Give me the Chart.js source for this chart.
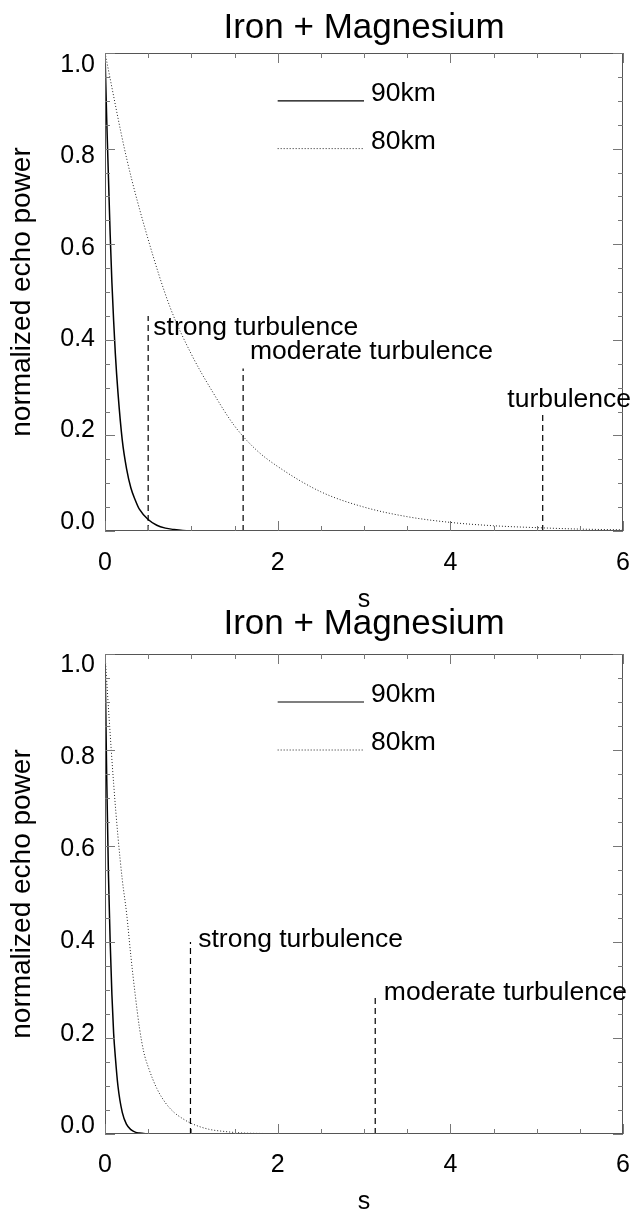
<!DOCTYPE html>
<html>
<head>
<meta charset="UTF-8">
<title>Iron + Magnesium</title>
<script src="https://cdn.jsdelivr.net/npm/chart.js@4.4.0/dist/chart.umd.min.js"></script>
<style>
  body { margin: 0; background: #fff; width: 636px; height: 1212px; overflow: hidden; position: relative; }
  canvas { position: absolute; left: 0; }
  #topChart { top: 0; }
  #bottomChart { top: 600px; }
</style>
</head>
<body>
<canvas id="topChart" width="636" height="630"></canvas>
<canvas id="bottomChart" width="636" height="620"></canvas>
<script>
const FONT = '"Liberation Sans", Arial, Helvetica, sans-serif';

// upper panel
const topS90 = [0, 0.02, 0.04, 0.06, 0.08, 0.10, 0.12, 0.15, 0.20, 0.25, 0.30, 0.35, 0.40, 0.50, 0.60, 0.70, 0.80, 0.90, 1.05];
const topP90 = [1.0, 0.86, 0.74, 0.62, 0.52, 0.44, 0.37, 0.29, 0.19, 0.13, 0.09, 0.065, 0.045, 0.024, 0.012, 0.006, 0.003, 0.001, 0.0];
const topS80 = [0, 0.25, 0.5, 0.75, 1, 1.25, 1.5, 1.75, 2, 2.5, 3, 3.5, 4, 4.5, 5, 5.5, 6];
const topP80 = [1.0, 0.78, 0.61, 0.47, 0.37, 0.29, 0.22, 0.17, 0.135, 0.082, 0.05, 0.03, 0.018, 0.011, 0.007, 0.004, 0.0025];
const topMarkS = [0.5, 1.6, 5.07];
const topMarkH = [0.45, 0.34, 0.245];
const topLabels = ['strong turbulence', 'moderate turbulence', 'turbulence'];
const topLabelS = [0.56, 1.68, 4.66];
const topLabelP = [0.41, 0.36, 0.26];

// lower panel
const botS90 = [0, 0.02, 0.04, 0.06, 0.08, 0.10, 0.12, 0.15, 0.20, 0.25, 0.30, 0.35, 0.40, 0.50];
const botP90 = [1.0, 0.74, 0.54, 0.40, 0.29, 0.21, 0.16, 0.10, 0.045, 0.02, 0.009, 0.004, 0.002, 0.0];
const botS80 = [0, 0.05, 0.1, 0.15, 0.2, 0.25, 0.3, 0.35, 0.4, 0.45, 0.5, 0.6, 0.7, 0.8, 0.9, 1.0, 1.2, 1.4, 1.6, 1.85];
const botP80 = [1.0, 0.86, 0.73, 0.62, 0.53, 0.46, 0.37, 0.29, 0.22, 0.17, 0.14, 0.095, 0.065, 0.045, 0.032, 0.022, 0.01, 0.005, 0.002, 0.001];
const botMarkS = [0.99, 3.13];
const botMarkH = [0.40, 0.29];
const botLabels = ['strong turbulence', 'moderate turbulence'];
const botLabelS = [1.08, 3.23];
const botLabelP = [0.39, 0.28];

// legend (same in both panels)
const legendNames = ['90km', '80km'];
const legendS = [2.0, 3.0];
const legendP = [0.9, 0.8];
const legendTextS = 3.08;

// axes
const xTicks = [0, 2, 4, 6];
const yTicks = [0, 0.2, 0.4, 0.6, 0.8, 1.0];
// the printed y labels sit a little inside the frame in the original
const topLabelRange = [-0.0197, 1.0263];
const botLabelRange = [-0.0174, 1.0239];

function pts(xs, ys) {
    return xs.map((x, i) => ({x: x, y: ys[i]}));
}

function makePanel(id, p) {
    const solid = {borderColor: '#000', borderWidth: 1.5, pointRadius: 0, showLine: true, cubicInterpolationMode: 'monotone', yAxisID: 'yd'};
    const dotted = {borderColor: '#222', borderWidth: 1, borderDash: [1, 2], pointRadius: 0, showLine: true, cubicInterpolationMode: 'monotone', yAxisID: 'yd'};
    const datasets = [
        Object.assign({label: legendNames[0], data: pts(p.s90, p.p90)}, solid),
        Object.assign({label: legendNames[1], data: pts(p.s80, p.p80)}, dotted),
        Object.assign({data: pts(legendS, [legendP[0], legendP[0]])}, solid, {borderWidth: 1.2}),
        Object.assign({data: pts(legendS, [legendP[1], legendP[1]])}, dotted)
    ];
    p.markS.forEach((s, i) => {
        datasets.push({
            data: [{x: s, y: 0}, {x: s, y: p.markH[i]}],
            borderColor: '#000', borderWidth: 1.2, borderDash: [6, 4],
            pointRadius: 0, showLine: true, yAxisID: 'yd'
        });
    });

    // IDL style box with inward ticks, plus the text labels
    const idlFrame = {
        id: 'idlFrame',
        afterDatasetsDraw(chart) {
            const {ctx, chartArea: a, scales: {x, yd}} = chart;
            ctx.save();
            ctx.strokeStyle = '#555';
            ctx.lineWidth = 1;
            ctx.strokeRect(Math.round(a.left) + 0.5, Math.round(a.top) + 0.5,
                Math.round(a.right - a.left) - 1, Math.round(a.bottom - a.top) - 1);
            ctx.strokeStyle = '#777';
            ctx.beginPath();
            for (let k = 0; k <= 12; k++) {
                const px = Math.round(x.getPixelForValue(k * 0.5)) + 0.5;
                const len = (k % 4 === 0) ? 10 : 5;
                ctx.moveTo(px, a.bottom); ctx.lineTo(px, a.bottom - len);
                ctx.moveTo(px, a.top); ctx.lineTo(px, a.top + len);
            }
            for (let k = 0; k <= 20; k++) {
                const py = Math.round(yd.getPixelForValue(k * 0.05)) + 0.5;
                const len = (k % 4 === 0) ? 10 : 5;
                ctx.moveTo(a.left, py); ctx.lineTo(a.left + len, py);
                ctx.moveTo(a.right, py); ctx.lineTo(a.right - len, py);
            }
            ctx.stroke();

            ctx.fillStyle = '#000';
            ctx.font = '26.5px ' + FONT;
            ctx.textAlign = 'left';
            ctx.textBaseline = 'alphabetic';
            legendNames.forEach((n, i) => {
                ctx.fillText(n, x.getPixelForValue(legendTextS), yd.getPixelForValue(legendP[i]));
            });
            p.labels.forEach((t, i) => {
                ctx.fillText(t, x.getPixelForValue(p.labelS[i]), yd.getPixelForValue(p.labelP[i]));
            });
            ctx.restore();
        }
    };

    return new Chart(document.getElementById(id), {
        type: 'scatter',
        data: {datasets: datasets},
        options: {
            responsive: false,
            animation: false,
            layout: {padding: {left: 0, right: 13, top: 0, bottom: 0}},
            plugins: {
                legend: {display: false},
                tooltip: {enabled: false},
                title: {
                    display: true,
                    fullSize: false,
                    text: 'Iron + Magnesium',
                    color: '#000',
                    font: {family: FONT, size: 35, weight: 'normal'},
                    padding: p.titlePad
                }
            },
            scales: {
                x: {
                    type: 'linear', min: 0, max: 6,
                    afterBuildTicks: s => { s.ticks = xTicks.map(v => ({value: v})); },
                    afterFit: s => { s.height = p.xAxisH; s.paddingLeft = 0; s.paddingRight = 0; },
                    grid: {display: false, drawTicks: false},
                    border: {display: false},
                    ticks: {color: '#000', font: {family: FONT, size: 25}, padding: p.xTickPad, maxRotation: 0},
                    title: {display: true, text: 's', color: '#000', font: {family: FONT, size: 25}, padding: {top: 0, bottom: p.xTitlePad}}
                },
                y: {
                    type: 'linear', position: 'left', min: p.labelRange[0], max: p.labelRange[1],
                    afterBuildTicks: s => { s.ticks = yTicks.map(v => ({value: v})); },
                    afterFit: s => { s.width = 105; s.paddingTop = 0; s.paddingBottom = 0; },
                    grid: {display: false, drawTicks: false},
                    border: {display: false},
                    ticks: {color: '#000', font: {family: FONT, size: 25}, padding: 10, callback: v => v.toFixed(1)},
                    title: {display: true, text: 'normalized echo power', color: '#000', font: {family: FONT, size: 28}, padding: {top: 5, bottom: 0}}
                },
                yd: {
                    type: 'linear', position: 'left', min: 0, max: 1, display: false
                }
            }
        },
        plugins: [idlFrame]
    });
}

makePanel('topChart', {
    s90: topS90, p90: topP90, s80: topS80, p80: topP80,
    markS: topMarkS, markH: topMarkH,
    labels: topLabels, labelS: topLabelS, labelP: topLabelP,
    labelRange: topLabelRange,
    titlePad: {top: 7.0, bottom: 4.0},
    xAxisH: 99, xTickPad: 17, xTitlePad: 15
});

makePanel('bottomChart', {
    s90: botS90, p90: botP90, s80: botS80, p80: botP80,
    markS: botMarkS, markH: botMarkH,
    labels: botLabels, labelS: botLabelS, labelP: botLabelP,
    labelRange: botLabelRange,
    titlePad: {top: 3.0, bottom: 9.0},
    xAxisH: 86, xTickPad: 16, xTitlePad: 3
});
</script>
</body>
</html>
